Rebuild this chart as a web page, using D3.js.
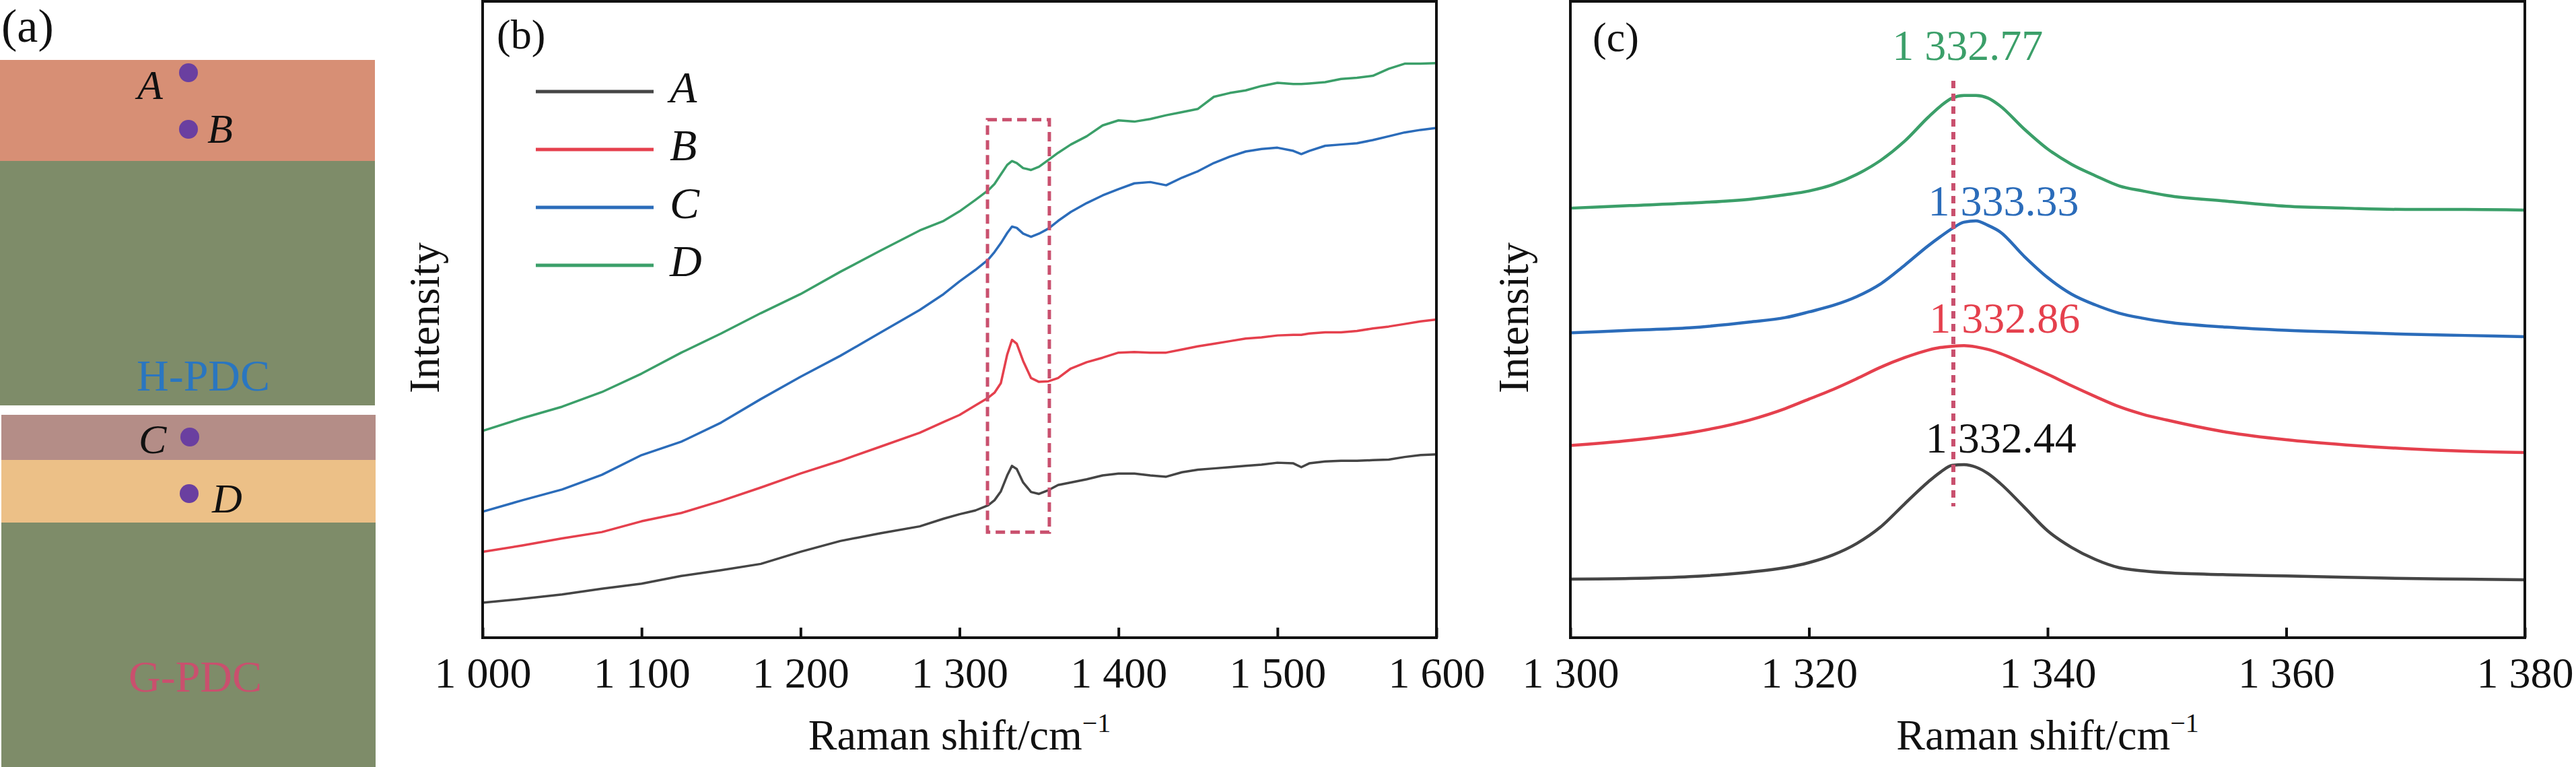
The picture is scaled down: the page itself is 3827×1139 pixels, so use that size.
<!DOCTYPE html>
<html>
<head>
<meta charset="utf-8">
<script src="https://cdn.jsdelivr.net/npm/d3@7"></script>
<style>
body { margin: 0; background: #fff; }
text { font-family: "Liberation Serif", "Times New Roman", serif; }
</style>
</head>
<body>
<script>
// panel (b) : wide Raman spectra
var shiftB = [1000,1025,1050,1075,1100,1125,1150,1175,1200,1225,1250,1275,1290,1300,1310,1318,1322,1326,1330,1333,1336,1340,1345,1350,1356,1362,1370,1380,1390,1400,1410,1420,1430,1440,1450,1460,1470,1480,1490,1500,1510,1515,1520,1530,1540,1550,1560,1570,1580,1590,1600];
var wideA = [5.5,6.1,6.8,7.7,8.5,9.7,10.6,11.6,13.5,15.2,16.4,17.5,18.7,19.4,20.0,20.8,21.6,23.0,25.5,27.0,26.5,24.4,22.9,22.6,23.2,24.0,24.4,24.9,25.5,25.8,25.8,25.5,25.3,26.0,26.4,26.6,26.8,27.0,27.2,27.5,27.4,26.8,27.4,27.7,27.8,27.8,27.9,28.0,28.4,28.7,28.8];
var wideB = [13.5,14.5,15.6,16.6,18.3,19.6,21.5,23.6,25.8,27.8,30.0,32.2,33.9,35.0,36.5,37.7,38.5,40.0,44.5,46.8,46.2,43.5,40.8,40.2,40.3,40.8,42.3,43.3,44.0,44.8,44.9,44.8,44.8,45.3,45.8,46.2,46.6,47.0,47.2,47.5,47.6,47.6,47.8,48.0,48.0,48.2,48.6,48.9,49.3,49.7,50.0];
var wideC = [19.8,21.6,23.3,25.6,28.7,30.8,33.8,37.5,41.0,44.3,47.9,51.5,54.0,56.0,57.8,59.4,60.6,62.0,63.6,64.6,64.4,63.5,63.0,63.5,64.3,65.5,66.9,68.3,69.5,70.5,71.4,71.6,71.1,72.3,73.3,74.6,75.6,76.4,76.8,77.0,76.5,76.0,76.5,77.3,77.5,77.7,78.2,78.8,79.4,79.8,80.1];
var wideD = [32.5,34.5,36.3,38.6,41.5,44.8,47.8,51.0,54.0,57.5,60.8,64.0,65.5,67.0,68.8,70.3,71.3,72.8,74.3,74.9,74.6,73.8,73.5,74.0,75.1,76.2,77.5,78.8,80.5,81.3,81.1,81.5,82.1,82.6,83.1,85.0,85.6,86.0,86.7,87.2,87.0,87.0,87.1,87.3,87.8,88.0,88.3,89.4,90.2,90.2,90.3];
var ticksB = [1000,1100,1200,1300,1400,1500,1600];
var zoomBox = [1317.6, 1356.5, 16.6, 81.4];

// panel (c) : diamond peak, fitted
var shiftC = [1300,1305,1310,1315,1318,1320,1322,1324,1326,1328,1330,1331,1332,1333,1334,1335,1336,1338,1340,1342,1344,1346,1348,1350,1355,1360,1365,1370,1375,1380];
var peakA = [9.2,9.3,9.6,10.3,11.0,11.8,13.0,14.8,17.4,21.0,24.5,26.0,27.1,27.2,26.8,25.8,24.3,20.6,16.8,14.2,12.3,11.0,10.5,10.2,9.9,9.7,9.5,9.3,9.2,9.1];
var peakB = [30.2,31.0,32.2,34.2,36.0,37.5,39.0,40.7,42.5,44.0,45.2,45.6,45.8,45.9,45.7,45.3,44.7,43.1,41.4,39.6,37.9,36.3,35.1,34.2,32.3,31.1,30.3,29.7,29.3,29.1];
var peakC = [47.9,48.3,48.7,49.6,50.3,51.2,52.2,53.6,55.6,58.5,61.6,63.0,64.3,65.3,65.5,64.8,63.8,60.0,56.6,54.0,52.3,51.0,50.2,49.6,48.8,48.3,48.0,47.7,47.5,47.3];
var peakD = [67.5,67.9,68.3,68.9,69.6,70.2,71.2,72.8,75.0,78.0,81.8,83.5,84.8,85.2,85.2,84.8,83.6,80.0,76.8,74.4,72.6,71.0,70.2,69.5,68.6,67.8,67.5,67.3,67.3,67.2];
var ticksC = [1300,1320,1340,1360,1380];
var peakLabels = ["1 332.44","1 332.86","1 333.33","1 332.77"];
var peakLabelX = [1336.1,1336.4,1336.3,1333.3];
var peakLabelY = [29.1,47.9,66.3,90.8];
var refLine = 1332.1;

var names = ["A","B","C","D"];
var colors = ["#454545","#e5404d","#2b6cba","#3b9f69"];

var W = 3827, H = 1139;
var svg = d3.select("body").append("svg").attr("width", W).attr("height", H);

drawSketch();
drawSpectra("b", [717, 2134], shiftB, [wideA, wideB, wideC, wideD], ticksB, 3.5, 652, d3.curveLinear);
drawSpectra("c", [2333, 3751], shiftC, [peakA, peakB, peakC, peakD], ticksC, 4.5, 2270, d3.curveMonotoneX);

function drawSketch() {
    var g = svg.append("g");
    // top block: H-PDC
    g.append("rect").attr("x", 0).attr("y", 89).attr("width", 557).attr("height", 150).attr("fill", "#d78f75");
    g.append("rect").attr("x", 0).attr("y", 239).attr("width", 557).attr("height", 363).attr("fill", "#7e8c69");
    // bottom block: G-PDC
    g.append("rect").attr("x", 2).attr("y", 616).attr("width", 556).attr("height", 67).attr("fill", "#b48d87");
    g.append("rect").attr("x", 2).attr("y", 683).attr("width", 556).attr("height", 93).attr("fill", "#ecc087");
    g.append("rect").attr("x", 2).attr("y", 776).attr("width", 556).attr("height", 363).attr("fill", "#7e8c69");

    var spots = [[280,108,204,147],[280,192,308,212],[282,649,206,673],[281,733,315,761]];
    spots.forEach(function(s, i) {
        g.append("circle").attr("cx", s[0]).attr("cy", s[1]).attr("r", 14).attr("fill", "#6a3fa0");
        g.append("text").attr("x", s[2]).attr("y", s[3]).attr("font-size", 62)
            .attr("font-style", "italic").attr("fill", "#111").text(names[i]);
    });

    g.append("text").attr("x", 203).attr("y", 580).attr("font-size", 66).attr("fill", "#2a76c0").text("H-PDC");
    g.append("text").attr("x", 191).attr("y", 1027).attr("font-size", 66).attr("fill", "#c9506e").text("G-PDC");
    g.append("text").attr("x", 2).attr("y", 62).attr("font-size", 70).attr("fill", "#111").text("(a)");
}

function drawSpectra(tag, xr, xs, series, ticks, lw, titleX, curve) {
    var top = 2, bottom = 947;
    var x = d3.scaleLinear().domain([xs[0], xs[xs.length-1]]).range(xr);
    var y = d3.scaleLinear().domain([0, 100]).range([bottom, top]);
    var g = svg.append("g");

    var line = d3.line()
        .curve(curve)
        .x(function(d) {return x(d[0]);})
        .y(function(d) {return y(d[1]);});

    series.forEach(function(vals, i) {
        g.append("path")
            .datum(xs.map(function(v, k) {return [v, vals[k]];}))
            .attr("d", line)
            .attr("fill", "none")
            .attr("stroke", colors[i])
            .attr("stroke-width", lw)
            .attr("stroke-linejoin", "round");
    });

    var fmt = function(d) {return d3.format(",")(d).replace(",", " ");};
    var axis = d3.axisBottom(x).tickValues(ticks).tickFormat(fmt)
        .tickSizeInner(-15).tickSizeOuter(0).tickPadding(29);
    var ax = g.append("g").attr("transform", "translate(0," + bottom + ")").call(axis);
    ax.select(".domain").remove();
    ax.selectAll(".tick line").attr("stroke", "#111").attr("stroke-width", 4);
    ax.selectAll(".tick text").attr("font-size", 64).attr("fill", "#111")
        .attr("font-family", "'Liberation Serif', 'Times New Roman', serif");

    g.append("rect").attr("x", xr[0]).attr("y", top)
        .attr("width", xr[1]-xr[0]).attr("height", bottom-top)
        .attr("fill", "none").attr("stroke", "#111").attr("stroke-width", 4);

    var xt = g.append("text").attr("x", (xr[0]+xr[1])/2).attr("y", 1113)
        .attr("text-anchor", "middle").attr("font-size", 64).attr("fill", "#111");
    xt.append("tspan").text("Raman shift/cm");
    xt.append("tspan").attr("dy", -26).attr("font-size", 40).text("\u22121");

    g.append("text").attr("transform", "translate(" + titleX + ",472) rotate(-90)")
        .attr("text-anchor", "middle").attr("font-size", 64).attr("fill", "#111").text("Intensity");

    g.append("text").attr("x", xr[0] + (tag == "b" ? 21 : 33)).attr("y", tag == "b" ? 72 : 76)
        .attr("font-size", 62).attr("fill", "#111").text("(" + tag + ")");

    if (tag == "b") {
        // legend
        names.forEach(function(n, i) {
            var ly = 136 + i*86;
            g.append("line").attr("x1", 796).attr("x2", 971).attr("y1", ly).attr("y2", ly)
                .attr("stroke", colors[i]).attr("stroke-width", 5);
            g.append("text").attr("x", 995).attr("y", ly + 16).attr("font-size", 66)
                .attr("font-style", "italic").attr("fill", "#111").text(n);
        });
        g.append("rect")
            .attr("x", x(zoomBox[0])).attr("y", y(zoomBox[3]))
            .attr("width", x(zoomBox[1]) - x(zoomBox[0]))
            .attr("height", y(zoomBox[2]) - y(zoomBox[3]))
            .attr("fill", "none").attr("stroke", "#c9506e").attr("stroke-width", 5)
            .attr("stroke-dasharray", "14,8");
    } else {
        g.append("line").attr("x1", x(refLine)).attr("x2", x(refLine))
            .attr("y1", 120).attr("y2", 752)
            .attr("stroke", "#c9506e").attr("stroke-width", 6).attr("stroke-dasharray", "11,8");
        peakLabels.forEach(function(t, i) {
            g.append("text").attr("x", x(peakLabelX[i])).attr("y", y(peakLabelY[i]))
                .attr("text-anchor", "middle").attr("font-size", 64)
                .attr("fill", i == 0 ? "#111" : colors[i]).text(t);
        });
    }
}
</script>
</body>
</html>
